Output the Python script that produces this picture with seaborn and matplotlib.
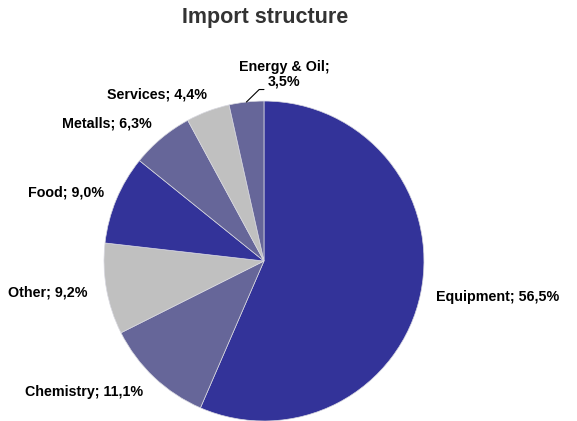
import numpy as np
import matplotlib
matplotlib.use("Agg")
import matplotlib.pyplot as plt
import seaborn as sns

sns.set_theme(style="white")
plt.rcParams['font.family'] = ['Liberation Sans', 'DejaVu Sans']

categories = ["Equipment", "Chemistry", "Other", "Food", "Metalls", "Services", "Energy & Oil"]
values = [56.5, 11.1, 9.2, 9.0, 6.3, 4.4, 3.5]
label_texts = ["Equipment; 56,5%", "Chemistry; 11,1%", "Other; 9,2%", "Food; 9,0%",
               "Metalls; 6,3%", "Services; 4,4%", "Energy & Oil;\n3,5%"]
colors = ["#333399", "#666699", "#C0C0C0", "#333399", "#666699", "#C0C0C0", "#666699"]

# label placement: radial distance, angular nudge in degrees, alignment
label_dist = [1.10, 1.115, 1.12, 1.09, 1.11, 1.10, 1.176]
label_ang_shift = [0, 0.7, 0, -0.6, -0.7, -1.7, -12.4]
label_ha = ["left", "right", "right", "right", "right", "right", "center"]

fig = plt.figure(figsize=(5.77, 4.21), dpi=100)
ax = fig.add_axes([0.4575 - 0.2773 * 1.6, 0.380 - 0.380 * 1.6, 0.5546 * 1.6, 0.760 * 1.6])

wedges, _ = ax.pie(values, colors=colors, startangle=90, counterclock=False,
                   radius=1.0, wedgeprops=dict(linewidth=0.5, edgecolor="#d8d8e0"))
ax.set_xlim(-1.6, 1.6)
ax.set_ylim(-1.6, 1.6)
ax.set_aspect('equal')
ax.axis('off')

for i, w in enumerate(wedges):
    mid = np.deg2rad((w.theta1 + w.theta2) / 2 + label_ang_shift[i])
    r = label_dist[i]
    x, y = r * np.cos(mid), r * np.sin(mid)
    ax.text(x, y, label_texts[i], ha=label_ha[i], va="center", fontsize=10.3,
            fontweight="bold", color="black", linespacing=1.05)
    if i == len(wedges) - 1:
        m0 = np.deg2rad((w.theta1 + w.theta2) / 2)
        ax.plot([np.cos(m0), -0.03, 0.0], [np.sin(m0), 1.072, 1.072],
                color="black", lw=0.8)

fig.text(0.4593, 0.958, "Import structure", ha="center", va="center",
         fontsize=15.5, fontweight="bold", color="#333333")

fig.savefig("out.png", dpi=100, facecolor="white")
